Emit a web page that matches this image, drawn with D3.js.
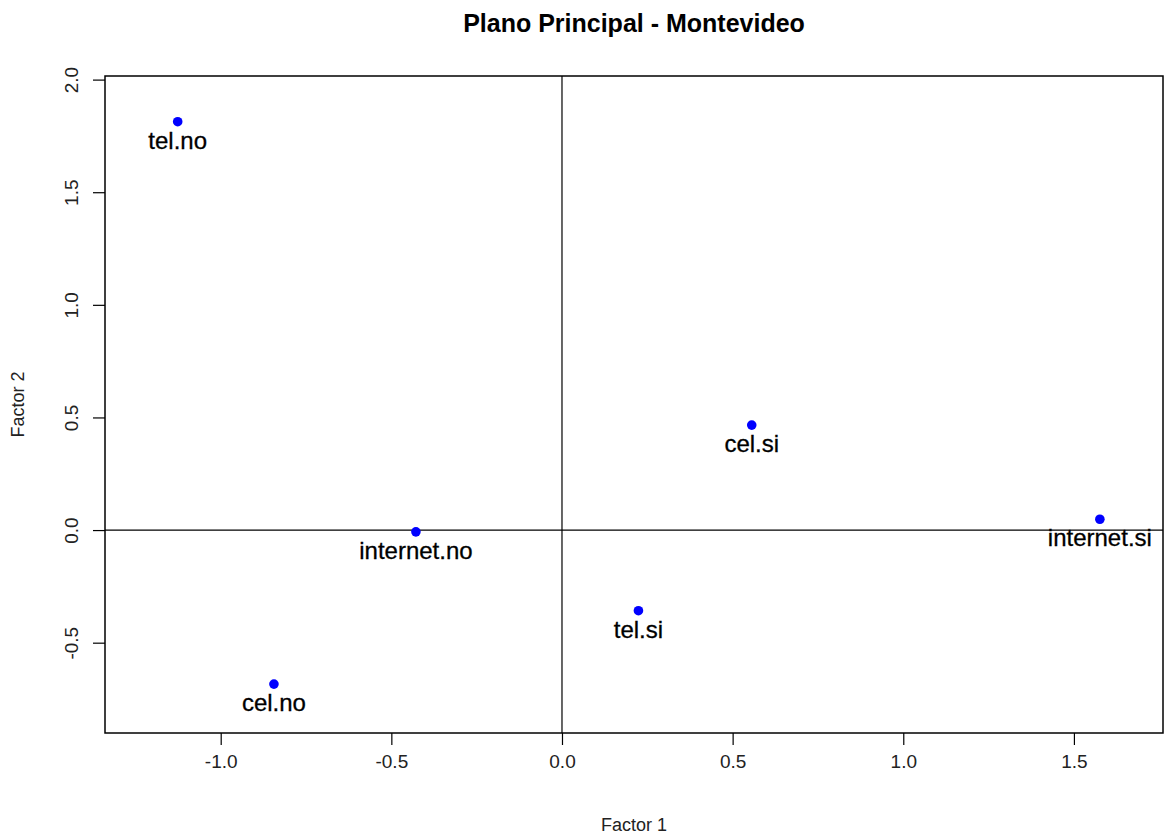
<!DOCTYPE html>
<html>
<head>
<meta charset="utf-8">
<script src="https://cdn.jsdelivr.net/npm/d3@7"></script>
<style>
  html, body { margin: 0; padding: 0; background: #ffffff; }
  svg { display: block; font-family: Arial, "Liberation Sans", sans-serif; }
</style>
</head>
<body>
<svg id="chart" width="1165" height="836"></svg>
<script>
// Category coordinates on the first two factors
const labels  = ["tel.no", "cel.no", "internet.no", "tel.si", "cel.si", "internet.si"];
const factor1 = [-1.126, -0.844, -0.428, 0.224, 0.556, 1.576];
const factor2 = [1.813, -0.684, -0.008, -0.358, 0.466, 0.048];

const xTicks = [-1.0, -0.5, 0.0, 0.5, 1.0, 1.5];
const yTicks = [-0.5, 0.0, 0.5, 1.0, 1.5, 2.0];

const title = "Plano Principal - Montevideo";
const xTitle = "Factor 1";
const yTitle = "Factor 2";

const W = 1165, H = 836;
const margin = { top: 76, right: 2, bottom: 103, left: 105 };

const svg = d3.select("#chart");

const x = d3.scaleLinear()
  .domain([-1.339, 1.761])
  .range([margin.left, W - margin.right]);
const y = d3.scaleLinear()
  .domain([-0.901, 2.016])
  .range([H - margin.bottom, margin.top]);

// Plain hyphen for negative numbers
const fmt = d3.formatLocale({ decimal: ".", thousands: ",", grouping: [3], currency: ["", ""], minus: "-" }).format(".1f");

// Bottom axis
const xAxis = svg.append("g")
  .attr("transform", `translate(0,${H - margin.bottom})`)
  .call(d3.axisBottom(x).tickValues(xTicks).tickFormat(fmt).tickSize(12).tickPadding(10));
xAxis.select(".domain").remove();
xAxis.selectAll("line").attr("stroke", "#000").attr("stroke-width", 1.2);
xAxis.selectAll("text")
  .attr("font-size", 19).attr("fill", "#222")
  .attr("font-family", "Arial, 'Liberation Sans', sans-serif");

// Left axis with rotated labels
const yAxis = svg.append("g")
  .attr("transform", `translate(${margin.left},0)`)
  .call(d3.axisLeft(y).tickValues(yTicks).tickFormat(fmt).tickSize(12));
yAxis.select(".domain").remove();
yAxis.selectAll("line").attr("stroke", "#000").attr("stroke-width", 1.2);
yAxis.selectAll("text")
  .attr("font-size", 19).attr("fill", "#222")
  .attr("font-family", "Arial, 'Liberation Sans', sans-serif")
  .attr("x", null).attr("dy", null)
  .attr("text-anchor", "middle")
  .attr("transform", "translate(-34,0) rotate(-90)")
  .attr("dy", "0.35em");

// Plot frame
svg.append("rect")
  .attr("x", x.range()[0]).attr("y", y.range()[1])
  .attr("width", x.range()[1] - x.range()[0])
  .attr("height", y.range()[0] - y.range()[1])
  .attr("fill", "none").attr("stroke", "#000").attr("stroke-width", 1.5);

// Reference lines through the origin
svg.append("line")
  .attr("x1", x.range()[0]).attr("x2", x.range()[1])
  .attr("y1", y(0)).attr("y2", y(0))
  .attr("stroke", "#000").attr("stroke-width", 1.2);
svg.append("line")
  .attr("x1", x(0)).attr("x2", x(0))
  .attr("y1", y.range()[1]).attr("y2", y.range()[0])
  .attr("stroke", "#000").attr("stroke-width", 1.2);

// Points and their labels
const data = labels.map((d, i) => ({ label: d, f1: factor1[i], f2: factor2[i] }));

svg.append("g").selectAll("circle")
  .data(data).join("circle")
  .attr("cx", d => x(d.f1)).attr("cy", d => y(d.f2))
  .attr("r", 4.8).attr("fill", "#0000ff");

svg.append("g").selectAll("text")
  .data(data).join("text")
  .attr("x", d => x(d.f1)).attr("y", d => y(d.f2) + 27)
  .attr("text-anchor", "middle")
  .attr("font-size", 24).attr("fill", "#000")
  .attr("stroke", "#000").attr("stroke-width", 0.3)
  .text(d => d.label);

// Titles
svg.append("text")
  .attr("x", (x.range()[0] + x.range()[1]) / 2).attr("y", 32)
  .attr("text-anchor", "middle")
  .attr("font-size", 25).attr("font-weight", "bold")
  .text(title);

svg.append("text")
  .attr("x", (x.range()[0] + x.range()[1]) / 2).attr("y", 831)
  .attr("text-anchor", "middle")
  .attr("font-size", 18).attr("fill", "#222")
  .text(xTitle);

svg.append("text")
  .attr("transform", `translate(24,${(y.range()[0] + y.range()[1]) / 2}) rotate(-90)`)
  .attr("text-anchor", "middle")
  .attr("font-size", 18).attr("fill", "#222")
  .text(yTitle);
</script>
</body>
</html>
